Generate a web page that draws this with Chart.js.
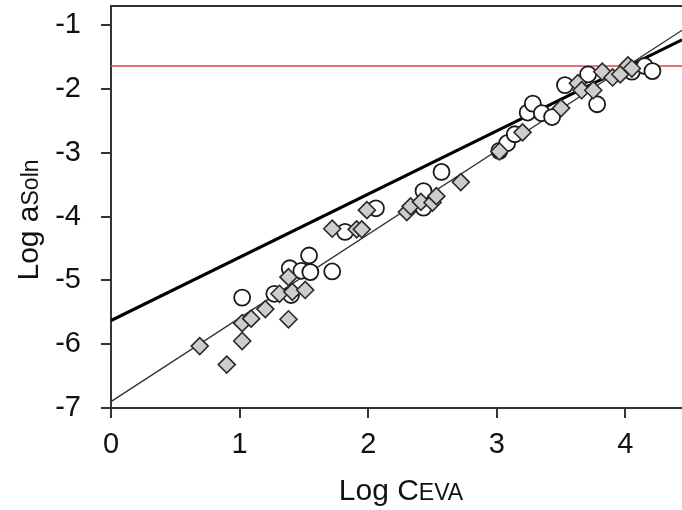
<!DOCTYPE html>
<html>
<head>
<meta charset="utf-8">
<script src="https://cdn.jsdelivr.net/npm/chart.js@4/dist/chart.umd.min.js"></script>
<style>
  html, body { margin: 0; padding: 0; background: #fff; }
  #wrap { width: 682px; height: 510px; }
</style>
</head>
<body>
<div id="wrap"><canvas id="c" width="682" height="510"></canvas></div>
<script>
// Open circles: log solution activity against log concentration in EVA
const circleX = [1.02, 1.27, 1.40, 1.39, 1.48, 1.55, 1.54, 1.72, 1.82, 2.06, 2.43, 2.43,
                 2.57, 3.02, 3.08, 3.14, 3.24, 3.28, 3.35, 3.43, 3.53, 3.71, 3.78, 4.05,
                 4.15, 4.21];
const circleY = [-5.27, -5.21, -5.23, -4.81, -4.85, -4.87, -4.61, -4.86, -4.24, -3.87, -3.60, -3.86,
                 -3.30, -2.97, -2.85, -2.71, -2.37, -2.23, -2.38, -2.44, -1.94, -1.77, -2.24, -1.73,
                 -1.64, -1.72];

// Grey diamonds
const diamondX = [0.69, 0.90, 1.02, 1.02, 1.09, 1.20, 1.31, 1.38, 1.41, 1.38, 1.51, 1.72,
                  1.91, 1.95, 1.99, 2.30, 2.33, 2.41, 2.50, 2.53, 2.72, 3.02, 3.20, 3.50,
                  3.63, 3.66, 3.75, 3.82, 3.90, 3.96, 4.02, 4.05];
const diamondY = [-6.03, -6.32, -5.95, -5.67, -5.60, -5.45, -5.21, -4.95, -5.18, -5.61, -5.15, -4.19,
                  -4.20, -4.20, -3.90, -3.93, -3.84, -3.77, -3.78, -3.68, -3.46, -2.98, -2.68, -2.30,
                  -1.91, -2.02, -2.02, -1.73, -1.82, -1.77, -1.63, -1.68];

// Fitted lines (end points) and the horizontal limit
const steepFitX = [0, 4.44];
const steepFitY = [-6.90, -1.08];
const shallowFitX = [0, 4.44];
const shallowFitY = [-5.63, -1.23];
const limitY = -1.64;

// Axes
const xRange = [0, 4.44];
const yRange = [-7, -0.70];
const xTicks = [0, 1, 2, 3, 4];
const yTicks = [-7, -6, -5, -4, -3, -2, -1];
const xTickLabels = ['0', '1', '2', '3', '4'];
const yTickLabels = ['-7', '-6', '-5', '-4', '-3', '-2', '-1'];
const xTitle = [['Log C', 30], ['EVA', 23]];
const yTitle = [['Log a', 30], ['Soln', 23]];

const FONT = "'Liberation Sans', Arial, Helvetica, sans-serif";
const toPts = (xs, ys) => xs.map((x, i) => ({ x: x, y: ys[i] }));

function drawParts(ctx, parts, cx, baseline) {
  let total = 0;
  parts.forEach(([t, s]) => { ctx.font = s + 'px ' + FONT; total += ctx.measureText(t).width; });
  let x = cx - total / 2;
  parts.forEach(([t, s]) => {
    ctx.font = s + 'px ' + FONT;
    ctx.fillText(t, x, baseline);
    x += ctx.measureText(t).width;
  });
}

// Top frame line and the two axis titles with their small-letter parts
const framePlugin = {
  id: 'frame',
  afterDraw(chart) {
    const { ctx, chartArea: a } = chart;
    ctx.save();
    ctx.strokeStyle = '#333';
    ctx.lineWidth = 2;
    ctx.beginPath();
    ctx.moveTo(a.left - 1, a.top);
    ctx.lineTo(a.right, a.top);
    ctx.stroke();

    ctx.fillStyle = '#111';
    ctx.textBaseline = 'alphabetic';
    ctx.textAlign = 'left';
    drawParts(ctx, xTitle, 401, 500);

    ctx.translate(38, 220);
    ctx.rotate(-Math.PI / 2);
    drawParts(ctx, yTitle, 0, 0);
    ctx.restore();
  }
};

const axisCommon = {
  type: 'linear',
  grid: { drawOnChartArea: false, drawTicks: true, tickLength: 10, color: '#333', tickColor: '#333', lineWidth: 2, tickWidth: 2 },
  border: { display: true, color: '#333', width: 2 },
};

new Chart(document.getElementById('c'), {
  type: 'scatter',
  data: {
    datasets: [
      {
        data: toPts(diamondX, diamondY),
        pointStyle: 'rectRot', pointRadius: 8.5, pointHoverRadius: 8.5,
        backgroundColor: '#cdcdcd', borderColor: '#2a2a2a', borderWidth: 1.6,
        order: 0
      },
      {
        data: toPts(circleX, circleY),
        pointStyle: 'circle', pointRadius: 8, pointHoverRadius: 8,
        backgroundColor: '#fff', borderColor: '#1a1a1a', borderWidth: 1.8,
        order: 1
      },
      {
        type: 'line', data: toPts(steepFitX, steepFitY),
        borderColor: '#333', borderWidth: 1.3, pointRadius: 0, fill: false, tension: 0,
        order: 2
      },
      {
        type: 'line', data: toPts(shallowFitX, shallowFitY),
        borderColor: '#000', borderWidth: 3.2, pointRadius: 0, fill: false, tension: 0,
        order: 2
      },
      {
        type: 'line', data: toPts(xRange, [limitY, limitY]),
        borderColor: '#dc4048', borderWidth: 1.5, pointRadius: 0, fill: false, tension: 0,
        order: 3
      }
    ]
  },
  options: {
    responsive: false,
    animation: false,
    devicePixelRatio: 1,
    layout: { autoPadding: false, padding: { top: 6, left: 0, right: 0, bottom: 0 } },
    plugins: { legend: { display: false }, tooltip: { enabled: false } },
    events: [],
    scales: {
      x: Object.assign({}, axisCommon, {
        min: xRange[0], max: xRange[1],
        afterBuildTicks: s => { s.ticks = xTicks.map(v => ({ value: v })); },
        afterFit: s => { s.height = 102; s.paddingLeft = 0; s.paddingRight = 0; },
        ticks: {
          color: '#111', padding: 10, maxRotation: 0,
          font: { family: FONT, size: 29 },
          callback: v => xTickLabels[xTicks.indexOf(v)]
        }
      }),
      y: Object.assign({}, axisCommon, {
        min: yRange[0], max: yRange[1],
        afterBuildTicks: s => { s.ticks = yTicks.map(v => ({ value: v })); },
        afterFit: s => { s.width = 111; s.paddingTop = 0; s.paddingBottom = 0; },
        ticks: {
          color: '#111', padding: 20,
          font: { family: FONT, size: 29 },
          callback: v => yTickLabels[yTicks.indexOf(v)]
        }
      })
    }
  },
  plugins: [framePlugin]
});
</script>
</body>
</html>
